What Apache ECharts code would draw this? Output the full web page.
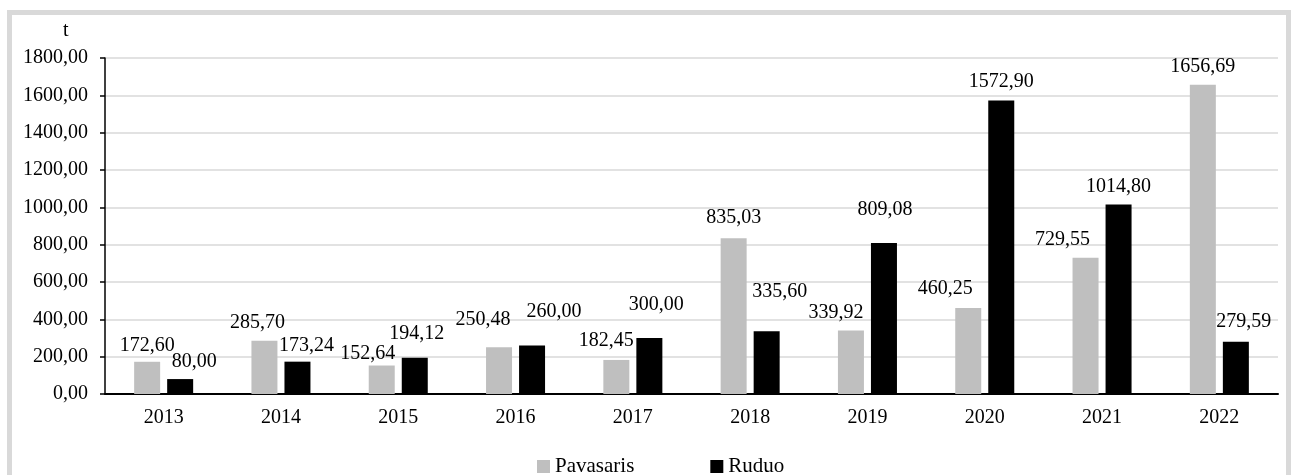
<!DOCTYPE html>
<html>
<head>
<meta charset="utf-8">
<script src="https://cdn.jsdelivr.net/npm/echarts@6/dist/echarts.min.js"></script>
<style>
  html, body { margin: 0; padding: 0; background: #fff; }
  #chart { position: absolute; left: 0; top: 0; width: 1291px; height: 475px; }
  #frame { position: absolute; left: 7px; top: 10px; width: 1284px; height: 500px;
           box-sizing: border-box; border: 5px solid #d9d9d9; pointer-events: none; }
</style>
</head>
<body>
<div id="chart"></div>
<div id="frame"></div>
<script>
// ---- data ----
const years = ['2013', '2014', '2015', '2016', '2017', '2018', '2019', '2020', '2021', '2022'];
const pavasaris = [172.60, 285.70, 152.64, 250.48, 182.45, 835.03, 339.92, 460.25, 729.55, 1656.69];
const ruduo = [80.00, 173.24, 194.12, 260.00, 300.00, 335.60, 809.08, 1572.90, 1014.80, 279.59];
const seriesNames = ['Pavasaris', 'Ruduo'];
const yMin = 0, yMax = 1800, yStep = 200;
const unitLabel = 't';

// ---- label nudges (style only) ----
const pavShift = [[0,0],[-7,-2],[-14,4],[-16,-11],[-10,-3],[0,-4],[-15,-2],[-23,-3],[-23,-2],[0,-2]];
const rudShift = [[14,-1],[9,0],[2,-8],[22,-18],[7,-17],[13,-24],[1,-17],[0,-3],[0,-2],[8,-4]];

const FONT = 'Liberation Serif';
const fmt = v => v.toFixed(2).replace('.', ',');

function mkData(vals, shifts) {
  return vals.map((v, i) => ({ value: v, label: { offset: shifts[i] } }));
}

const chart = echarts.init(document.getElementById('chart'), null, { renderer: 'canvas' });
chart.setOption({
  backgroundColor: '#ffffff',
  animation: false,
  grid: { left: 105, right: 13, top: 58, bottom: 81, containLabel: false },
  graphic: [{
    type: 'text', left: 63, top: 21,
    style: { text: unitLabel, font: '20px "' + FONT + '"', fill: '#000' }
  }],
  legend: {
    data: seriesNames,
    left: 537, top: 456, padding: 0,
    itemWidth: 13, itemHeight: 13, itemGap: 76,
    icon: 'rect',
    textStyle: { fontFamily: FONT, fontSize: 21, color: '#000' }
  },
  xAxis: {
    type: 'category',
    data: years,
    axisLine: { lineStyle: { color: '#000', width: 2 } },
    axisTick: { show: false },
    axisLabel: { fontFamily: FONT, fontSize: 20, color: '#000', margin: 14 }
  },
  yAxis: {
    type: 'value',
    min: yMin, max: yMax, interval: yStep,
    axisLine: { show: true, lineStyle: { color: '#000', width: 1.5 } },
    axisTick: { show: true, length: 5, lineStyle: { color: '#000', width: 1.5 } },
    axisLabel: { fontFamily: FONT, fontSize: 20, color: '#000', margin: 17, formatter: v => fmt(v) },
    splitLine: { lineStyle: { color: '#d9d9d9', width: 1.5 } }
  },
  series: [
    {
      name: seriesNames[0], type: 'bar',
      data: mkData(pavasaris, pavShift),
      barWidth: 26, barGap: '27%',
      itemStyle: { color: '#bfbfbf' },
      label: { show: true, position: 'top', distance: 6, fontFamily: FONT, fontSize: 20, color: '#000',
               formatter: p => fmt(p.value) }
    },
    {
      name: seriesNames[1], type: 'bar',
      data: mkData(ruduo, rudShift),
      barWidth: 26, barGap: '27%',
      itemStyle: { color: '#000000' },
      label: { show: true, position: 'top', distance: 6, fontFamily: FONT, fontSize: 20, color: '#000',
               formatter: p => fmt(p.value) }
    }
  ]
});
</script>
</body>
</html>
